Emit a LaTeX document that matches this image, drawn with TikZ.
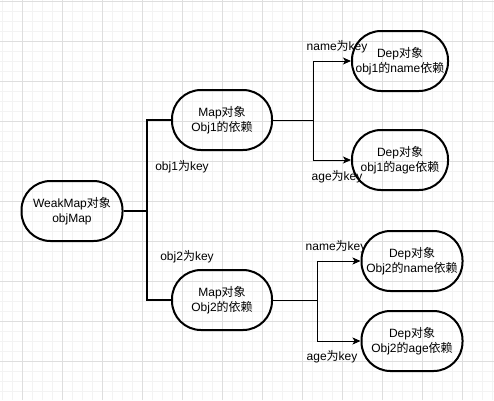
\documentclass[tikz,border=0pt]{standalone}
\usepackage{fontspec}
\setmainfont{Liberation Sans}
\newfontfamily\zh{Noto Sans CJK SC}
\usetikzlibrary{arrows.meta}
\definecolor{gridmajor}{RGB}{222,222,222}
\definecolor{gridminor}{RGB}{243,243,243}

\begin{document}
\begin{tikzpicture}[x=1pt, y=-1pt, auto,
    object/.style ={draw, line width=2pt, rounded corners=29pt, minimum height=60pt,
      inner sep=0pt, align=center, font=\fontsize{12}{15}\selectfont},
    keylabel/.style ={inner sep=0pt, font=\fontsize{12}{15}\selectfont},
    trunk/.style ={line width=2pt},
    link/.style ={line width=1pt},
    branch/.style ={line width=1pt, -{Stealth[length=8pt, width=7pt, inset=2pt]}}]
   \useasboundingbox (0,0) rectangle (494,400);
   \fill[white] (0,0) rectangle (494,400);
   % background grid
   \foreach \x in {2,12,...,492} \draw[gridminor] (\x,0) -- (\x,400);
   \foreach \y in {1,11,...,391} \draw[gridminor] (0,\y) -- (494,\y);
   \foreach \x in {22,62,...,462} \draw[gridmajor] (\x,0) -- (\x,400);
   \foreach \y in {1,41,...,361} \draw[gridmajor] (0,\y) -- (494,\y);

   \node[object, minimum width=101pt] (weak)  at (72,211)  {WeakMap{\zh 对象}\\objMap};
   \node[object, minimum width=100pt] (map1)  at (222,120) {Map{\zh 对象}\\Obj1{\zh 的依赖}};
   \node[object, minimum width=100pt] (map2)  at (222,300) {Map{\zh 对象}\\Obj2{\zh 的依赖}};
   \node[object, minimum width=96pt]  (dep11) at (400,61)  {Dep{\zh 对象}\\obj1{\zh 的}name{\zh 依赖}};
   \node[object, minimum width=96pt]  (dep12) at (400,160) {Dep{\zh 对象}\\obj1{\zh 的}age{\zh 依赖}};
   \node[object, minimum width=101pt] (dep21) at (412,261) {Dep{\zh 对象}\\Obj2{\zh 的}name{\zh 依赖}};
   \node[object, minimum width=101pt] (dep22) at (412,341) {Dep{\zh 对象}\\Obj2{\zh 的}age{\zh 依赖}};

   \coordinate (j0) at (147,211);
   \coordinate (j1) at (313,120);
   \coordinate (j2) at (317,300);

   \draw[trunk] (weak) -- (j0) |- (map1);
   \draw[trunk] (j0) |- (map2);
   \draw[link] (map1) -- (j1);
   \draw[branch] (j1) |- (dep11);
   \draw[branch] (j1) |- (dep12);
   \draw[link] (map2) -- (j2);
   \draw[branch] (j2) |- (dep21);
   \draw[branch] (j2) |- (dep22);

   \node[keylabel] (k1)  at (182,167) {obj1{\zh 为}key};
   \node[keylabel] (k2)  at (187,257) {obj2{\zh 为}key};
   \node[keylabel] (k11) at (337,47)  {name{\zh 为}key};
   \node[keylabel] (k12) at (337,177) {age{\zh 为}key};
   \node[keylabel] (k21) at (336,247) {name{\zh 为}key};
   \node[keylabel] (k22) at (332,357) {age{\zh 为}key};
 \end{tikzpicture}
\end{document}
